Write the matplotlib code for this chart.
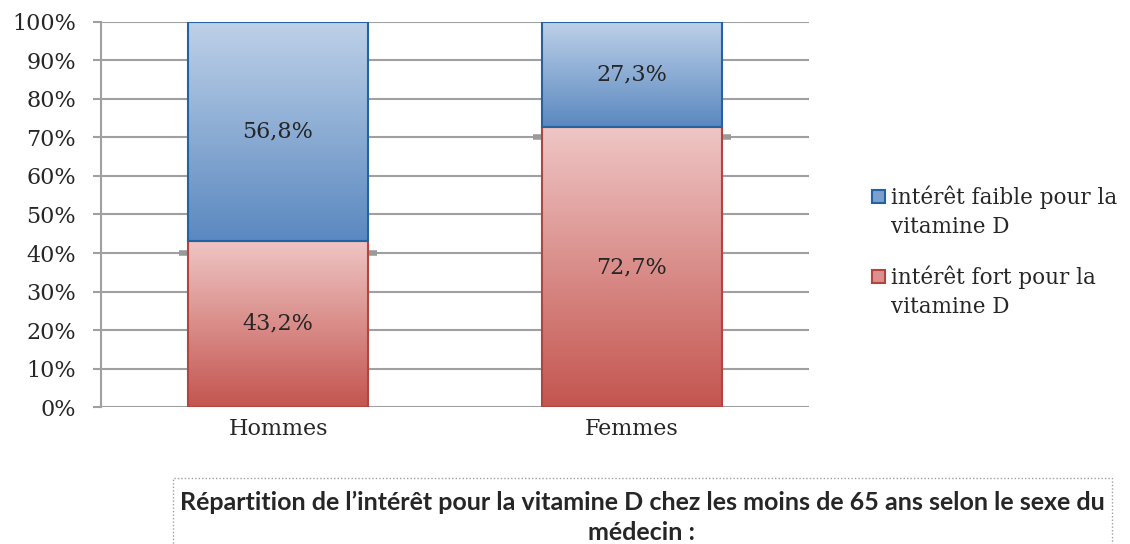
import numpy as np
import matplotlib.pyplot as plt
from matplotlib.colors import LinearSegmentedColormap
from matplotlib.patches import Rectangle

categories = ["Hommes", "Femmes"]
fort = [43.2, 72.7]
faible = [56.8, 27.3]
fort_labels = ["43,2%", "72,7%"]
faible_labels = ["56,8%", "27,3%"]
legend_labels = [["intérêt faible pour la", "vitamine D"], ["intérêt fort pour la", "vitamine D"]]
caption = ["Répartition de l’intérêt pour la vitamine D chez les moins de 65 ans selon le sexe du",
           "médecin :"]

serif = ["DejaVu Serif"]
txt = "#262626"
blue_cmap = LinearSegmentedColormap.from_list("b", ["#5a88c0", "#bed1e8"])
red_cmap = LinearSegmentedColormap.from_list("r", ["#c4554f", "#efc6c5"])

fig = plt.figure(figsize=(11.3, 5.44), dpi=100)
ax = fig.add_axes([0.0894, 0.2518, 0.6265, 0.7078])
x = np.arange(len(categories))
width = 0.51

grad = np.linspace(0, 1, 256).reshape(-1, 1)


def grad_bar(xc, y0, h, cmap, edge):
    ext = [xc - width / 2, xc + width / 2, y0, y0 + h]
    im = ax.imshow(grad, cmap=cmap, extent=ext, origin="lower", aspect="auto", zorder=2)
    rect = Rectangle((xc - width / 2, y0), width, h, facecolor="none", edgecolor=edge, lw=1.5, zorder=3)
    ax.add_patch(rect)
    im.set_clip_path(rect)


for i in range(len(categories)):
    grad_bar(x[i], 0, fort[i], red_cmap, "#b34541")
    grad_bar(x[i], fort[i], faible[i], blue_cmap, "#2563a0")
    ax.text(x[i], fort[i] / 2, fort_labels[i], ha="center", va="center", fontsize=16, family=serif, color=txt, zorder=4)
    ax.text(x[i], fort[i] + faible[i] / 2, faible_labels[i], ha="center", va="center", fontsize=16, family=serif, color=txt, zorder=4)
    # little shadow stubs on the gridline just under the split
    g = np.floor(fort[i] / 10) * 10
    for side in (-1, 1):
        e = x[i] + side * width / 2
        ax.plot([e, e + side * 0.025], [g, g], color="#9a9a9a", lw=4, solid_capstyle="butt", zorder=1)

ax.set_xlim(-0.5, 1.5)
ax.set_ylim(0, 100)
ax.set_yticks(np.arange(0, 101, 10))
ax.set_yticklabels([f"{v}%" for v in range(0, 101, 10)], family=serif, fontsize=16, color=txt)
ax.set_xticks(x)
ax.set_xticklabels(categories, family=serif, fontsize=16, color=txt)
ax.tick_params(axis="x", length=0, pad=8)
ax.tick_params(axis="y", length=6, color="#a0a0a0", width=1.5, pad=12)
ax.yaxis.grid(True, color="#a0a0a0", lw=1.5, zorder=0)
ax.set_axisbelow(True)
for s in ["top", "right", "bottom"]:
    ax.spines[s].set_visible(False)
ax.spines["left"].set_color("#a0a0a0")
ax.spines["left"].set_linewidth(1.5)

# legend
for j, (lines, fc, ec) in enumerate([(legend_labels[0], "#7aa0d0", "#2563a0"),
                                      (legend_labels[1], "#dc8f8d", "#b34541")]):
    y1 = 197 + j * 80
    fig.patches.append(Rectangle((872 / 1130, 1 - (y1 + 6) / 544), 13 / 1130, 13 / 544,
                                 transform=fig.transFigure, facecolor=fc, edgecolor=ec, lw=1.5))
    for k, line in enumerate(lines):
        fig.text(891 / 1130, 1 - (y1 + k * 30) / 544, line, ha="left", va="center", fontsize=15.5,
                 family=serif, color=txt)

# caption box
fig.patches.append(Rectangle((173 / 1130, -0.05), 939 / 1130, 1 - 478 / 544 + 0.05,
                             transform=fig.transFigure, facecolor="white", edgecolor="#a0a0a0",
                             lw=1, linestyle=(0, (1, 1.5))))
for k, line in enumerate(caption):
    fig.text(642 / 1130, 1 - (502 + k * 31) / 544, line, ha="center", va="center", fontsize=18,
             family=["Lato", "DejaVu Sans"], weight="bold", color=txt)

fig.savefig("out.png", dpi=100)
